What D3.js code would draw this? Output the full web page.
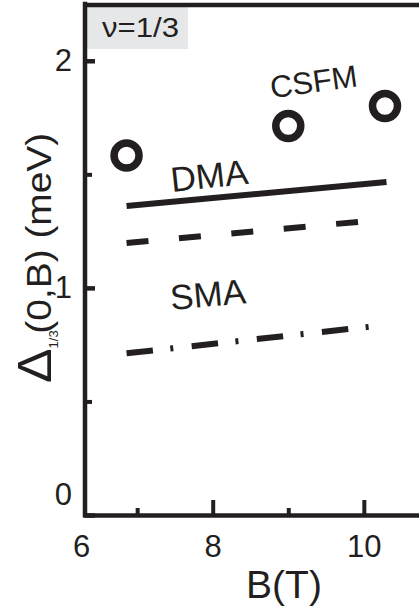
<!DOCTYPE html>
<html>
<head>
<meta charset="utf-8">
<script src="https://cdnjs.cloudflare.com/ajax/libs/d3/7.8.5/d3.min.js"></script>
<style>
body{margin:0;background:#fff;}
svg{display:block;}
text{font-family:"Liberation Sans",Arial,Helvetica,sans-serif;fill:#231f20;}
</style>
</head>
<body>
<div id="chart"></div>
<script>
// field B (T) at the two ends of each model curve
var bRange=[6.86,10.30];
// gap values (meV) at those ends
var dmaGap=[1.361,1.466];
var dmaDashGap=[1.198,1.302];
var smaGap=[0.712,0.837];
// CSFM points
var csfmB=[6.86,9.0,10.28];
var csfmGap=[1.583,1.713,1.801];
// axis ticks
var xMajor=[8,10], xMinor=[7,9];
var yMajor=[0,1,2], yMinor=[0.5,1.5];
// curve labels (text, B, gap)
var labelText=["CSFM","DMA","SMA"];
var labelB=[8.78,7.46,7.45];
var labelGap=[1.835,1.422,0.903];

var W=419, H=613, ink="#231f20";
var svg=d3.select("#chart").append("svg").attr("width",W).attr("height",H);

var x=d3.scaleLinear().domain([6.31,10.73]).range([85,419]);
var y=d3.scaleLinear().domain([0,2.25]).range([515,4]);

// nu box
svg.append("rect").attr("x",86).attr("y",4).attr("width",102).attr("height",45).attr("fill","#e6e7e8");
svg.append("text").attr("x",102).attr("y",37).style("font-size","27px")
	.attr("textLength",77).attr("lengthAdjust","spacingAndGlyphs").text("\u03bd=1/3");

function styleAxis(g,w){
	g.select(".domain").attr("stroke",ink).attr("stroke-width",4.5).attr("stroke-linecap","square");
	g.selectAll(".tick line").attr("stroke",ink).attr("stroke-width",w);
	g.selectAll(".tick text").attr("fill",ink).style("font-family",'"Liberation Sans",Arial,sans-serif');
}

// top frame line
var topAx=svg.append("g").attr("transform","translate(0,4.5)")
	.call(d3.axisTop(x).tickValues(xMinor.concat(xMajor)).tickSizeInner(-2).tickSizeOuter(0).tickFormat(""));
styleAxis(topAx,1.5);

// x axis
var xg=svg.append("g").attr("transform","translate(0,515)")
	.call(d3.axisBottom(x).tickValues([x.domain()[0]].concat(xMajor)).tickSizeInner(-15).tickSizeOuter(0)
		.tickPadding(20).tickFormat(d3.format(".0f")));
styleAxis(xg,4);
xg.selectAll(".tick text").style("font-size","31px");
xg.selectAll(".tick").filter(function(d){return d<7;}).select("line").remove();
xg.selectAll(".tick").filter(function(d){return d<7;}).select("text").attr("dx","-4");
var xm=svg.append("g").attr("transform","translate(0,515)")
	.call(d3.axisBottom(x).tickValues(xMinor).tickSizeInner(-7).tickSizeOuter(0).tickFormat(""));
styleAxis(xm,4);
xm.select(".domain").remove();

// y axis
var yg=svg.append("g").attr("transform","translate(85,0)")
	.call(d3.axisLeft(y).tickValues(yMajor).tickSizeInner(-10).tickSizeOuter(0).tickPadding(13)
		.tickFormat(d3.format("d")));
styleAxis(yg,4.5);
yg.select(".domain").attr("d","M0,"+y(y.domain()[1])+"V"+y(0));
yg.selectAll(".tick text").style("font-size","31px");
yg.selectAll(".tick").filter(function(d){return d===0;}).select("text").attr("dy","-0.33em");
var ym=svg.append("g").attr("transform","translate(85,0)")
	.call(d3.axisLeft(y).tickValues(yMinor).tickSizeInner(-7).tickSizeOuter(0).tickFormat(""));
styleAxis(ym,4);
ym.select(".domain").remove();

// model curves
var line=d3.line().x(function(d){return x(d[0]);}).y(function(d){return y(d[1]);});
svg.append("path").datum(d3.zip(bRange,dmaGap)).attr("d",line)
	.attr("fill","none").attr("stroke",ink).attr("stroke-width",6);
svg.append("path").datum(d3.zip(bRange,dmaDashGap)).attr("d",line)
	.attr("fill","none").attr("stroke",ink).attr("stroke-width",6).attr("stroke-dasharray","22,30.6");
svg.append("path").datum(d3.zip(bRange,smaGap)).attr("d",line)
	.attr("fill","none").attr("stroke",ink).attr("stroke-width",6).attr("stroke-dasharray","26.5,17.5,3,18.5");

// CSFM circles
svg.selectAll("circle.csfm").data(d3.zip(csfmB,csfmGap)).enter().append("circle")
	.attr("class","csfm")
	.attr("cx",function(d){return x(d[0]);})
	.attr("cy",function(d){return y(d[1]);})
	.attr("r",12.5).attr("fill","none").attr("stroke",ink).attr("stroke-width",7.5);

// curve labels
var rot=[-7.9,-6.2,-5.1], fs=[31,35,35];
labelText.forEach(function(t,i){
	svg.append("text")
		.attr("transform","translate("+x(labelB[i])+","+y(labelGap[i])+") rotate("+rot[i]+")")
		.style("font-size",fs[i]+"px").text(t);
});

// axis titles
svg.append("text").attr("x",284).attr("y",598).attr("text-anchor","middle")
	.style("font-size","39px").text("B(T)");
var yl=svg.append("text").attr("transform","translate(51,383) rotate(-90) scale(1.08,1)");
yl.append("tspan").style("font-size","48px").text("\u0394");
yl.append("tspan").style("font-size","12px").attr("dy",7).attr("dx",0).text("1/3");
yl.append("tspan").style("font-size","36px").attr("dy",-7).attr("dx",-3).text("(0,B) (meV)");
</script>
</body>
</html>
